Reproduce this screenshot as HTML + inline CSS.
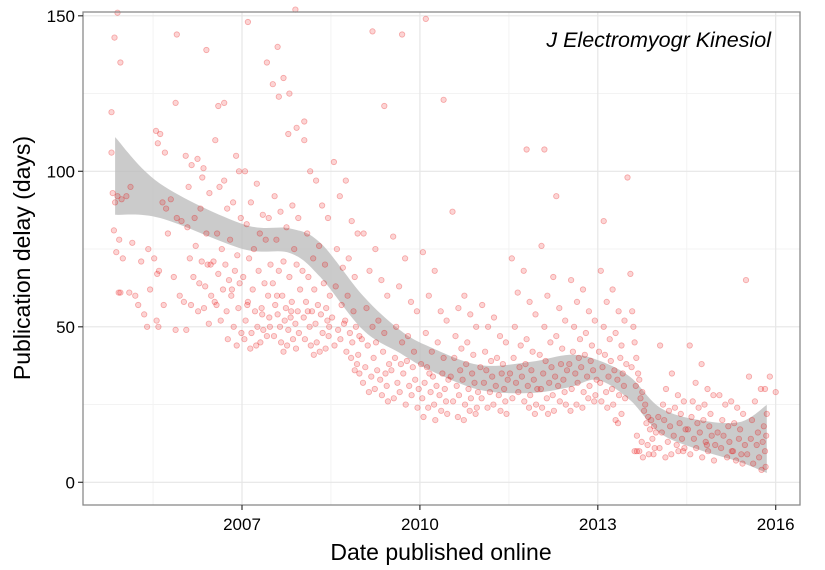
<!DOCTYPE html>
<html><head><meta charset="utf-8"><style>
html,body{margin:0;padding:0;background:#fff;}
svg{display:block;font-family:"Liberation Sans",sans-serif;}
</style></head><body>
<svg id="chart" width="825" height="570" viewBox="0 0 825 570" xmlns="http://www.w3.org/2000/svg">
<rect x="0" y="0" width="825" height="570" fill="#fff"/>
<g id="grid"></g>
<g id="band"></g>
<g id="pts"></g>
<rect x="83" y="12" width="717" height="493" fill="none" stroke="#8a8a8a" stroke-width="1.3"/>
<g id="axes"></g>
<text x="441" y="560" font-size="23" text-anchor="middle" fill="#000">Date published online</text>
<text transform="translate(30,258) rotate(-90)" font-size="23" text-anchor="middle" fill="#000">Publication delay (days)</text>
<text x="771" y="47" font-size="21.5" font-style="italic" text-anchor="end" fill="#000">J Electromyogr Kinesiol</text>
</svg>
<script>
const xTicks = [2007, 2010, 2013, 2016];
const xMinor = [2005.5, 2008.5, 2011.5, 2014.5];
const yTicks = [0, 50, 100, 150];
const yMinor = [25, 75, 125];
const bandDates = [2004.86,2005.62,2007.02,2007.81,2008.32,2009.04,2009.66,2010.17,2011.01,2011.86,2012.53,2013.0,2013.54,2014.05,2014.72,2015.40,2015.85];
const bandHigh = [111,96,83,81.6,77,60,49,43.5,37.7,38.7,41,39.3,34,24,20,19.4,24.9];
const bandLow = [86,85,75,73.7,66,49,41.6,36,29.7,28.7,30.6,32.9,26.5,15.8,10.4,6.5,3];
const points = [
[2004.90,151],[2004.85,143],[2004.95,135],[2004.80,119],[2004.80,106],[2005.90,144],[2005.88,122],[2006.40,139],[2006.60,121],[2006.70,122],
[2007.10,148],[2007.42,135],[2007.52,128],[2007.60,140],[2007.70,130],[2007.62,124],[2007.90,152],[2007.80,125],[2007.78,112],[2007.92,114],
[2008.05,116],[2009.20,145],[2009.40,121],[2009.70,144],[2010.10,149],[2010.40,123],[2011.80,107],[2012.10,107],[2012.30,92],[2013.10,84],
[2013.50,98],[2015.50,65],[2015.90,34],[2015.82,30],[2016.0,29],
[2004.82,93],[2004.90,92],[2004.97,91],[2004.84,81],[2004.88,74],[2004.92,61],[2004.95,61],[2004.99,72],[2004.93,78],[2004.86,90],
[2005.05,92],[2005.15,77],[2005.30,71],[2005.20,60],[2005.35,54],[2005.40,50],[2005.25,57],[2005.45,62],[2005.10,61],[2005.12,95],[2005.42,75],
[2005.55,113],[2005.62,112],[2005.58,109],[2005.70,106],[2005.80,91],[2005.66,90],[2005.90,85],[2005.75,80],[2005.52,72],[2005.60,68],[2005.57,67],[2005.85,66],[2005.95,60],[2005.68,57],[2005.56,52],[2005.59,50],[2005.88,49],[2005.72,88],[2005.98,84],
[2006.05,105],[2006.25,104],[2006.15,102],[2006.35,101],[2006.10,95],[2006.45,93],[2006.30,88],[2006.20,85],[2006.08,82],[2006.40,80],[2006.22,76],[2006.12,72],[2006.32,71],[2006.42,70],[2006.18,66],[2006.28,64],[2006.38,63],[2006.48,60],[2006.02,58],[2006.14,57],[2006.36,56],[2006.26,55],[2006.44,51],[2006.06,49],[2006.33,98],[2006.47,70],
[2006.55,110],[2006.90,105],[2006.95,100],[2006.70,97],[2006.62,95],[2006.85,90],[2006.75,88],[2006.98,85],[2006.58,80],[2006.80,78],[2006.66,75],[2006.92,73],[2006.52,71],[2006.72,70],[2006.88,68],[2006.60,67],[2006.78,65],[2006.96,64],[2006.68,62],[2006.82,60],[2006.54,58],[2006.94,56],[2006.74,55],[2006.64,52],[2006.86,50],[2006.99,48],[2006.76,46],[2006.91,44],[2006.57,57],[2006.83,62],
[2007.05,100],[2007.25,96],[2007.15,90],[2007.35,86],[2007.45,85],[2007.08,83],[2007.30,80],[2007.40,78],[2007.20,75],[2007.12,72],[2007.48,70],[2007.28,68],[2007.02,66],[2007.38,64],[2007.18,62],[2007.44,60],[2007.10,58],[2007.33,56],[2007.22,55],[2007.46,53],[2007.06,52],[2007.26,50],[2007.36,49],[2007.16,48],[2007.42,47],[2007.04,46],[2007.31,45],[2007.24,44],[2007.14,43],[2007.47,50],[2007.34,54],[2007.09,57],
[2007.55,92],[2007.85,89],[2007.65,87],[2007.95,85],[2007.75,82],[2007.58,78],[2007.88,75],[2007.70,71],[2007.92,70],[2007.62,68],[2007.80,66],[2007.52,64],[2007.98,62],[2007.68,60],[2007.84,58],[2007.56,57],[2007.74,56],[2007.94,55],[2007.60,54],[2007.82,53],[2007.72,52],[2007.90,51],[2007.64,50],[2007.78,49],[2007.96,48],[2007.54,47],[2007.86,46],[2007.66,45],[2007.76,44],[2007.91,43],[2007.70,42],[2007.83,55],[2007.59,60],
[2008.05,110],[2008.15,100],[2008.25,97],[2008.35,89],[2008.45,85],[2008.10,80],[2008.30,76],[2008.20,72],[2008.40,70],[2008.02,68],[2008.12,66],[2008.38,64],[2008.22,62],[2008.48,60],[2008.08,58],[2008.28,57],[2008.42,56],[2008.18,55],[2008.33,54],[2008.04,53],[2008.44,52],[2008.24,51],[2008.14,50],[2008.36,48],[2008.46,47],[2008.06,46],[2008.26,45],[2008.16,44],[2008.41,43],[2008.31,42],[2008.21,41],[2008.47,50],[2008.11,55],
[2008.55,103],[2008.75,97],[2008.65,92],[2008.85,84],[2008.95,80],[2008.60,75],[2008.80,72],[2008.70,69],[2008.90,66],[2008.58,63],[2008.78,60],[2008.68,57],[2008.88,55],[2008.52,53],[2008.72,51],[2008.92,50],[2008.62,49],[2008.82,48],[2008.98,47],[2008.66,46],[2008.86,45],[2008.56,44],[2008.76,42],[2008.96,41],[2008.84,40],[2008.94,38],[2008.90,36],[2008.98,35],[2008.74,52],
[2009.05,80],[2009.25,75],[2009.15,68],[2009.35,65],[2009.45,60],[2009.10,56],[2009.30,52],[2009.20,50],[2009.40,48],[2009.02,46],[2009.12,44],[2009.38,42],[2009.22,40],[2009.48,38],[2009.08,37],[2009.28,36],[2009.42,35],[2009.18,34],[2009.33,33],[2009.04,32],[2009.44,31],[2009.24,30],[2009.14,29],[2009.36,28],[2009.46,26],[2009.26,45],
[2009.55,79],[2009.75,72],[2009.65,63],[2009.85,58],[2009.95,55],[2009.60,50],[2009.80,47],[2009.70,45],[2009.90,42],[2009.58,40],[2009.78,39],[2009.68,38],[2009.88,37],[2009.52,36],[2009.72,35],[2009.92,33],[2009.62,32],[2009.82,31],[2009.98,30],[2009.66,29],[2009.86,28],[2009.56,27],[2009.76,25],[2009.96,24],
[2010.05,74],[2010.25,68],[2010.15,60],[2010.35,55],[2010.45,52],[2010.10,48],[2010.30,45],[2010.20,42],[2010.40,40],[2010.02,38],[2010.12,37],[2010.38,35],[2010.22,34],[2010.48,33],[2010.08,32],[2010.28,31],[2010.42,30],[2010.18,29],[2010.33,28],[2010.04,27],[2010.44,26],[2010.24,25],[2010.14,24],[2010.36,23],[2010.46,22],[2010.06,21],[2010.26,20],[2010.16,35],
[2010.55,87],[2010.75,60],[2010.65,56],[2010.85,54],[2010.95,50],[2010.60,47],[2010.80,45],[2010.70,43],[2010.90,41],[2010.58,40],[2010.78,38],[2010.68,36],[2010.88,35],[2010.52,34],[2010.72,33],[2010.92,32],[2010.62,31],[2010.82,30],[2010.98,29],[2010.66,28],[2010.86,27],[2010.56,26],[2010.76,25],[2010.96,24],[2010.84,23],[2010.94,22],[2010.64,21],[2010.74,20],
[2011.05,57],[2011.25,53],[2011.15,50],[2011.35,47],[2011.45,45],[2011.10,42],[2011.30,40],[2011.20,39],[2011.40,38],[2011.02,37],[2011.12,36],[2011.38,35],[2011.22,34],[2011.48,33],[2011.08,32],[2011.28,31],[2011.42,30],[2011.18,29],[2011.33,28],[2011.04,27],[2011.44,26],[2011.24,25],[2011.14,24],[2011.36,23],[2011.46,22],
[2011.55,72],[2011.75,68],[2011.65,61],[2011.85,58],[2011.95,54],[2011.60,50],[2011.80,46],[2011.70,44],[2011.90,42],[2011.58,40],[2011.78,38],[2011.68,37],[2011.88,36],[2011.52,35],[2011.72,34],[2011.92,33],[2011.62,32],[2011.82,31],[2011.98,30],[2011.66,29],[2011.86,28],[2011.56,27],[2011.76,26],[2011.96,25],[2011.84,24],[2011.94,22],
[2012.05,76],[2012.25,66],[2012.15,60],[2012.35,56],[2012.45,52],[2012.10,50],[2012.30,47],[2012.20,45],[2012.40,43],[2012.02,41],[2012.12,39],[2012.38,38],[2012.22,37],[2012.48,36],[2012.08,35],[2012.28,34],[2012.42,33],[2012.18,32],[2012.33,31],[2012.04,30],[2012.44,29],[2012.24,28],[2012.14,27],[2012.36,26],[2012.46,25],[2012.06,24],[2012.26,23],[2012.16,22],
[2012.55,65],[2012.75,62],[2012.65,58],[2012.85,55],[2012.95,52],[2012.60,50],[2012.80,48],[2012.70,46],[2012.90,44],[2012.58,42],[2012.78,41],[2012.68,40],[2012.88,39],[2012.52,38],[2012.72,37],[2012.92,36],[2012.62,35],[2012.82,34],[2012.98,33],[2012.66,32],[2012.86,31],[2012.56,30],[2012.76,29],[2012.96,28],[2012.84,27],[2012.94,26],[2012.64,25],[2012.74,24],[2012.54,23],
[2013.05,68],[2013.25,62],[2013.15,58],[2013.35,55],[2013.45,52],[2013.10,50],[2013.30,48],[2013.20,46],[2013.40,44],[2013.02,42],[2013.12,41],[2013.38,40],[2013.22,39],[2013.48,38],[2013.08,37],[2013.28,36],[2013.42,35],[2013.18,34],[2013.33,33],[2013.04,32],[2013.44,31],[2013.24,30],[2013.14,29],[2013.36,28],[2013.46,27],[2013.06,26],[2013.26,25],[2013.16,24],[2013.40,22],[2013.30,20],[2013.34,19],
[2013.55,67],[2013.58,55],[2013.60,50],[2013.62,45],[2013.65,40],[2013.57,37],[2013.68,35],[2013.70,33],[2013.64,31],[2013.75,29],[2013.72,27],[2013.80,25],[2013.78,23],[2013.85,21],[2013.90,20],[2013.82,19],[2013.95,18],[2013.88,17],[2013.98,16],[2013.66,15],[2013.92,14],[2013.74,13],[2013.84,12],[2013.96,11],[2013.62,10],[2013.70,10],[2013.86,9],[2013.76,8],[2013.94,9],[2013.66,10],
[2014.05,44],[2014.25,35],[2014.15,30],[2014.35,28],[2014.45,26],[2014.10,25],[2014.30,24],[2014.20,23],[2014.40,22],[2014.02,21],[2014.12,20],[2014.38,19],[2014.22,18],[2014.48,17],[2014.08,16],[2014.28,15],[2014.42,14],[2014.18,13],[2014.33,12],[2014.04,11],[2014.44,10],[2014.24,9],[2014.14,8],[2014.36,10],[2014.46,11],
[2014.55,44],[2014.75,38],[2014.65,32],[2014.85,30],[2014.95,28],[2014.60,26],[2014.80,25],[2014.70,24],[2014.90,22],[2014.58,21],[2014.78,20],[2014.68,19],[2014.88,18],[2014.52,17],[2014.72,16],[2014.92,15],[2014.62,14],[2014.82,13],[2014.98,12],[2014.66,11],[2014.86,10],[2014.56,9],[2014.76,8],[2014.96,7],[2014.84,12],
[2015.05,28],[2015.25,26],[2015.15,25],[2015.35,24],[2015.45,22],[2015.10,20],[2015.30,19],[2015.20,18],[2015.40,17],[2015.02,16],[2015.12,15],[2015.38,14],[2015.22,13],[2015.48,12],[2015.08,11],[2015.28,10],[2015.42,9],[2015.18,8],[2015.33,7],[2015.44,6],[2015.26,10],
[2015.55,34],[2015.75,30],[2015.65,26],[2015.85,22],[2015.60,20],[2015.80,18],[2015.70,16],[2015.84,15],[2015.58,14],[2015.78,13],[2015.68,12],[2015.82,10],[2015.52,9],[2015.72,8],[2015.62,6],[2015.83,5],[2015.76,4]
];
const NS = 'http://www.w3.org/2000/svg';
const PL = 83, PR = 800, PT = 12, PB = 505;
function xs(d){ return 242 + (d - 2007) * 59.3; }
function ys(v){ return 482.3 - v * 3.11; }
function mk(tag, attrs, parent){ const e = document.createElementNS(NS, tag); for (const k in attrs) e.setAttribute(k, attrs[k]); parent.appendChild(e); return e; }
function smoothPath(pts, first){
  let s = (first ? 'M' : 'L') + pts[0][0].toFixed(1) + ',' + pts[0][1].toFixed(1);
  for (let i = 0; i < pts.length - 1; i++) {
    const p0 = pts[Math.max(0,i-1)], p1 = pts[i], p2 = pts[i+1], p3 = pts[Math.min(pts.length-1,i+2)];
    const c1x = p1[0] + (p2[0]-p0[0])/6, c1y = p1[1] + (p2[1]-p0[1])/6;
    const c2x = p2[0] - (p3[0]-p1[0])/6, c2y = p2[1] - (p3[1]-p1[1])/6;
    s += 'C' + c1x.toFixed(1) + ',' + c1y.toFixed(1) + ' ' + c2x.toFixed(1) + ',' + c2y.toFixed(1) + ' ' + p2[0].toFixed(1) + ',' + p2[1].toFixed(1);
  }
  return s;
}
const grid = document.getElementById('grid');
yMinor.forEach(v => { const l = mk('line', {x1:PL,x2:PR,y1:ys(v),y2:ys(v),stroke:'#f3f3f3','stroke-width':1}, grid);

 });
xMinor.forEach(d => { const l = mk('line', {x1:xs(d),x2:xs(d),y1:PT,y2:PB,stroke:'#f3f3f3','stroke-width':1}, grid);

 });
yTicks.forEach(v => { const l = mk('line', {x1:PL,x2:PR,y1:ys(v),y2:ys(v),stroke:'#e6e6e6','stroke-width':1.2}, grid);

 });
xTicks.forEach(d => { const l = mk('line', {x1:xs(d),x2:xs(d),y1:PT,y2:PB,stroke:'#e6e6e6','stroke-width':1.2}, grid);

 });
const band = document.getElementById('band');
const upper = bandDates.map((d,i) => [xs(d), ys(bandHigh[i])]);
const lower = bandDates.map((d,i) => [xs(d), ys(bandLow[i])]).reverse();
const bp = mk('path', {d: smoothPath(upper, true) + smoothPath(lower, false) + 'Z', fill:'#bdbdbd', 'fill-opacity':0.78}, band);


const pg = document.getElementById('pts');
points.forEach(p => { const c = mk('circle', {cx:xs(p[0]).toFixed(1), cy:ys(p[1]).toFixed(1), r:2.7, fill:'rgba(240,0,0,0.17)', stroke:'rgba(230,0,0,0.3)', 'stroke-width':0.8}, pg);

 });
const axes = document.getElementById('axes');
yTicks.forEach(v => { const t = mk('line', {x1:PL-5,x2:PL,y1:ys(v),y2:ys(v),stroke:'#333','stroke-width':1.2}, axes);


const tx = mk('text', {x:PL-8, y:ys(v)+6, 'font-size':17, 'text-anchor':'end', fill:'#000'}, axes);
tx.textContent = v;

 });
xTicks.forEach(d => { const t = mk('line', {x1:xs(d),x2:xs(d),y1:PB,y2:PB+5,stroke:'#333','stroke-width':1.2}, axes);


const tx = mk('text', {x:xs(d), y:PB+25, 'font-size':17, 'text-anchor':'middle', fill:'#000'}, axes);
tx.textContent = d;

 });
</script>
</body></html>
